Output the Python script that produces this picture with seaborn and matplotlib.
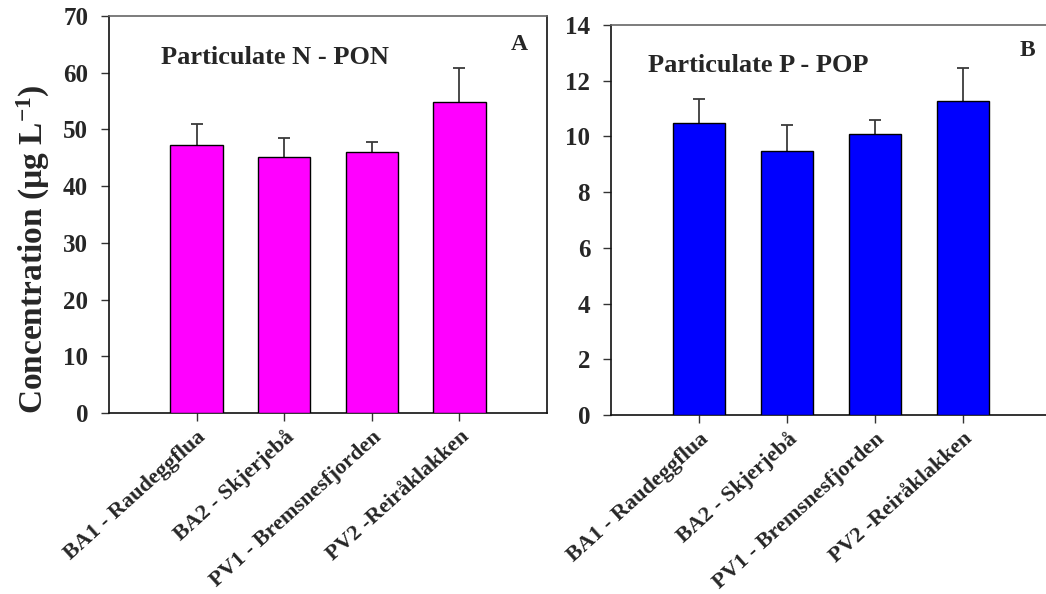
import numpy as np
import pandas as pd
import matplotlib
matplotlib.use("Agg")
import matplotlib.pyplot as plt
import seaborn as sns

# ---- data ----
sites = ["BA1 - Raudeggflua", "BA2 - Skjerjebå", "PV1 - Bremsnesfjorden", "PV2 -Reiråklakken"]
pon_mean = [47.2, 45.1, 46.0, 54.9]
pon_err = [3.7, 3.4, 1.7, 5.9]
pop_mean = [10.47, 9.47, 10.09, 11.28]
pop_err = [0.87, 0.95, 0.49, 1.18]
pon_ticks = [0, 10, 20, 30, 40, 50, 60, 70]
pop_ticks = [0, 2, 4, 6, 8, 10, 12, 14]

sns.set_style("white")
plt.rcParams['font.family'] = ['Liberation Serif', 'DejaVu Serif']
plt.rcParams['font.weight'] = 'bold'
plt.rcParams['mathtext.fontset'] = 'custom'
plt.rcParams['mathtext.rm'] = 'Liberation Serif:bold'
plt.rcParams['mathtext.bf'] = 'Liberation Serif:bold'
plt.rcParams['mathtext.default'] = 'bf'

W, H = 1046, 594
fig = plt.figure(figsize=(W / 100, H / 100), dpi=100)

def px_axes(x0, y0, x1, y1):
    return fig.add_axes([x0 / W, 1 - y1 / H, (x1 - x0) / W, (y1 - y0) / H])

axA = px_axes(109, 16, 547, 413)
axB = px_axes(611, 25, 1051, 415)

def draw(ax, mean, err, color, ticks, title, letter, title_xy, letter_xy):
    df = pd.DataFrame({"site": sites, "value": mean})
    sns.barplot(data=df, x="site", y="value", color=color, saturation=1,
                width=0.6, edgecolor="black", linewidth=1.0, errorbar=None,
                ax=ax, zorder=3)
    ax.errorbar(np.arange(len(mean)), mean, yerr=err, fmt="none",
                ecolor="#3a3a3a", elinewidth=1.3, capsize=4, capthick=1.3,
                zorder=2)
    ax.set_xlim(-1, 4)
    ax.set_ylim(ticks[0], ticks[-1])
    ax.set_yticks(ticks)
    ax.set_yticklabels([str(t) for t in ticks], fontsize=18, fontweight="bold")
    ax.set_xticks(range(len(sites)))
    ax.set_xticklabels(sites, rotation=42, ha="right", va="top",
                       rotation_mode="anchor", fontsize=16,
                       fontweight="bold")
    ax.set_xlabel("")
    ax.set_ylabel("")
    ax.tick_params(axis="both", direction="out", length=6, width=1,
                   color="#333333", bottom=True, left=True)
    ax.tick_params(axis="x", pad=4)
    ax.tick_params(axis="y", pad=9)
    for side in ["left", "bottom", "right"]:
        ax.spines[side].set_color("#111111")
        ax.spines[side].set_linewidth(1.2)
    ax.spines["top"].set_color("#666666")
    ax.spines["top"].set_linewidth(1.2)
    ax.text(title_xy[0], title_xy[1], title, transform=ax.transAxes,
            fontsize=19, fontweight="bold", ha="left", va="center")
    ax.text(letter_xy[0], letter_xy[1], letter, transform=ax.transAxes,
            fontsize=17, fontweight="bold", ha="center", va="center")

draw(axA, pon_mean, pon_err, "#FF00FF", pon_ticks, "Particulate N - PON", "A",
     ((161 - 109) / 438, 1 - (57 - 16) / 397), ((519 - 109) / 438, 1 - (45 - 16) / 397))
draw(axB, pop_mean, pop_err, "#0000FF", pop_ticks, "Particulate P - POP", "B",
     ((648 - 611) / 440, 1 - (65 - 25) / 390), ((1027 - 611) / 440, 1 - (50 - 25) / 390))

axA.set_ylabel(r"Concentration (µg L$^{-1}$)", fontsize=24, fontweight="bold")
axA.yaxis.set_label_coords((52 - 109) / 438, 1 - (249 - 16) / 397)
axB.spines["right"].set_visible(False)

fig.savefig("out.png", dpi=100, facecolor="white")
